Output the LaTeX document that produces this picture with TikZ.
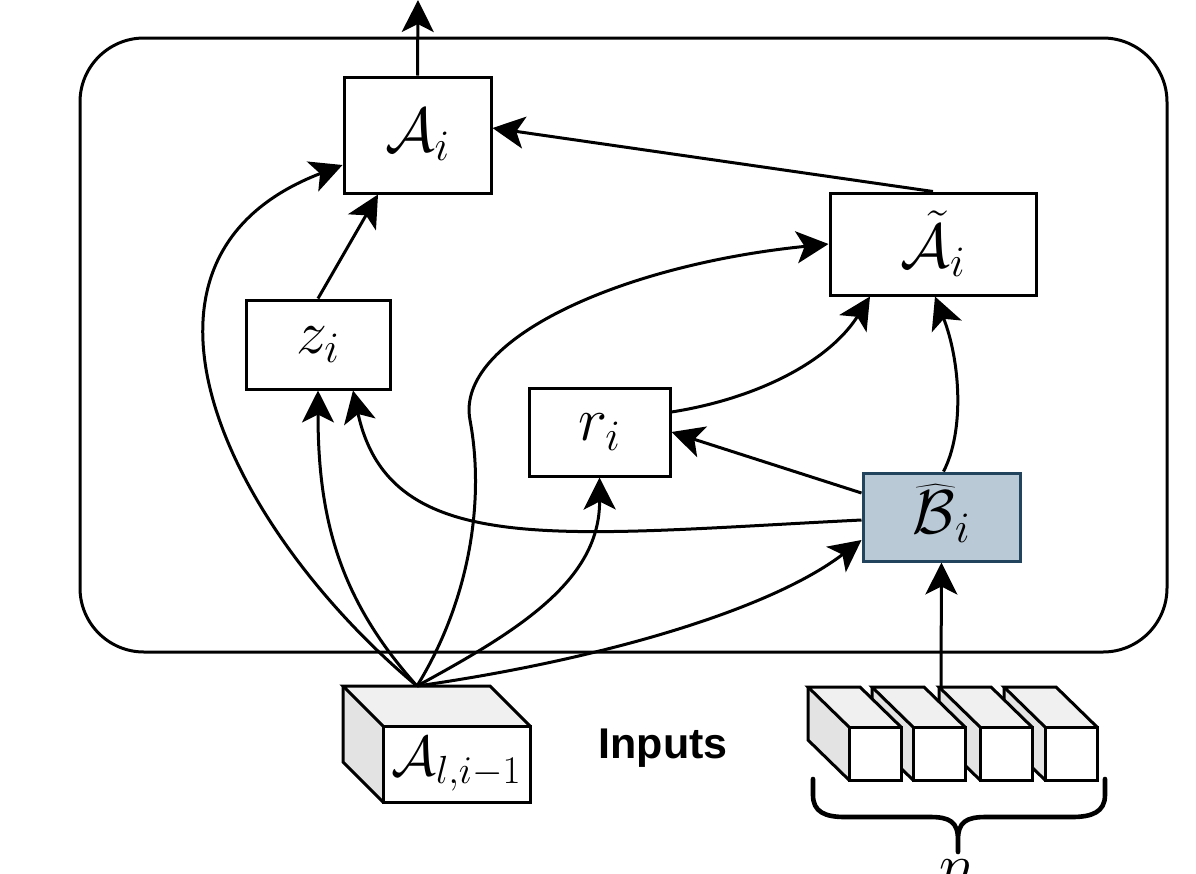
\RequirePackage{fix-cm}
\documentclass[tikz,border=0pt]{standalone}
\usepackage{graphicx}
\usepackage{fontspec}
\newfontfamily\inputsfont{Liberation Sans}
\usetikzlibrary{arrows.meta,calc}
\definecolor{bfill}{HTML}{B9C9D6}
\definecolor{bdraw}{HTML}{23445D}
\definecolor{topgray}{HTML}{F0F0F0}
\definecolor{sidegray}{HTML}{E3E3E3}
\newcommand{\hatB}{\mathord{\ooalign{$\mathcal{B}$\cr\hidewidth\kern0.08em\scalebox{1.35}[1]{$\widehat{\phantom{\mathcal{B}}}$}\hidewidth\cr}}}
\tikzset{
  box/.style={draw=black,line width=1.5pt,fill=white,inner sep=0pt,font=\fontsize{31}{36}\selectfont},
  conn/.style={line width=1.5pt,-{Stealth[length=16pt,width=16pt,inset=4pt]}},
  face/.style={draw=black,line width=1.5pt,line join=miter},
}
\begin{document}
\begin{tikzpicture}[x=0.5pt,y=-0.5pt]
\useasboundingbox (0,0) rectangle (1196,874);
% outer container
\node[draw=black,line width=1.5pt,rounded corners=32pt,minimum width=543.5pt,minimum height=307pt,inner sep=0pt] (frame) at (623.5,345) {};
% boxes
\node[box,minimum width=73.5pt,minimum height=58pt] (Ai) at (417.5,135) {$\mathcal{A}_i$};
\node[box,minimum width=103pt,minimum height=51pt] (At) at (933,244) {$\tilde{\mathcal{A}}_i$};
\node[box,minimum width=72pt,minimum height=44.5pt] (z) at (318,344.5) {$z_i$};
\node[box,minimum width=70.5pt,minimum height=44pt] (r) at (599.5,432) {$r_i$};
\node[box,draw=bdraw,fill=bfill,minimum width=78.5pt,minimum height=44pt] (B) at (941.5,517) {\raisebox{-2.5pt}{$\hatB_i$}};
% input cube A_{l,i-1}
\fill[sidegray] (383,726) -- (343,686) -- (343,762) -- (383,802) -- cycle;
\fill[topgray] (383,726) -- (343,686) -- (490,686) -- (530,726) -- cycle;
\draw[face] (383,726) -- (343,686) -- (490,686) -- (530,726);
\draw[face] (343,686) -- (343,762) -- (383,802);
\node[face,fill=white,minimum width=73.5pt,minimum height=38pt,inner sep=0pt,font=\fontsize{28}{31}\selectfont] (Al) at (456.5,764) {$\mathcal{A}_{l,i-1}$};
\coordinate (src) at (417,686);
% input cubes (drawn right to left so each hides the next one's side)
\foreach \fx in {1045,980,913,849}{
  \fill[sidegray] (\fx,727) -- (\fx-41,687) -- (\fx-41,740) -- (\fx,780) -- cycle;
  \fill[topgray] (\fx,727) -- (\fx-41,687) -- (\fx+11,687) -- (\fx+52,727) -- cycle;
  \draw[face] (\fx,727) -- (\fx-41,687) -- (\fx+11,687) -- (\fx+52,727);
  \draw[face] (\fx-41,687) -- (\fx-41,740) -- (\fx,780);
  \draw[face,fill=white] (\fx,727) rectangle (\fx+52,780);
}
\coordinate (src2) at (941,686);
% brace and n
\draw[line width=2.3pt,line cap=round] (813,779) -- (813,795) .. controls (813,812) and (825,817) .. (845,817) -- (930,817) .. controls (950,817) and (958,822) .. (958,840) -- (958,852)
  (958,840) .. controls (958,822) and (966,817) .. (986,817) -- (1072,817) .. controls (1092,817) and (1105,812) .. (1105,795) -- (1105,779);
\node[anchor=north,inner sep=0pt,font=\fontsize{31}{36}\selectfont] (n) at (958,859) {$n$};
% Inputs label
\node[font=\inputsfont\bfseries\fontsize{21.5}{24}\selectfont] (inp) at (663,748) {Inputs};
% connectors
\draw[conn] (Ai.north) -- (418,0);
\draw[conn] (src) .. controls (230,530) and (95,260) .. ([yshift=-15pt]Ai.west);
\draw[conn] (src) .. controls (340,600) and (318,520) .. (z.south);
\draw[conn] ([yshift=-1.5pt]B.west) .. controls (560,535) and (390,560) .. ([xshift=17.5pt]z.south);
\draw[conn] (src) .. controls (470,600) and (485,500) .. (470,420) .. controls (455,340) and (620,265) .. (At.west);
\draw[conn] (src) .. controls (520,630) and (600,580) .. (r.south);
\draw[conn] (src) .. controls (600,660) and (770,610) .. ([yshift=-11.5pt]B.west);
\draw[conn] ([yshift=10pt]r.east) .. controls (760,398) and (830,360) .. ([xshift=-31.5pt]At.south);
\draw[conn] ([yshift=12pt]B.west) -- (r.east);
\draw[conn] ([xshift=1pt]B.north) .. controls (965,430) and (960,360) .. ([xshift=1pt]At.south);
\draw[conn] (At.north) -- ([yshift=3.5pt]Ai.east);
\draw[conn] (z.north) -- ([xshift=-19.75pt]Ai.south);
\draw[conn] (src2) -- (B.south);
\end{tikzpicture}
\end{document}
